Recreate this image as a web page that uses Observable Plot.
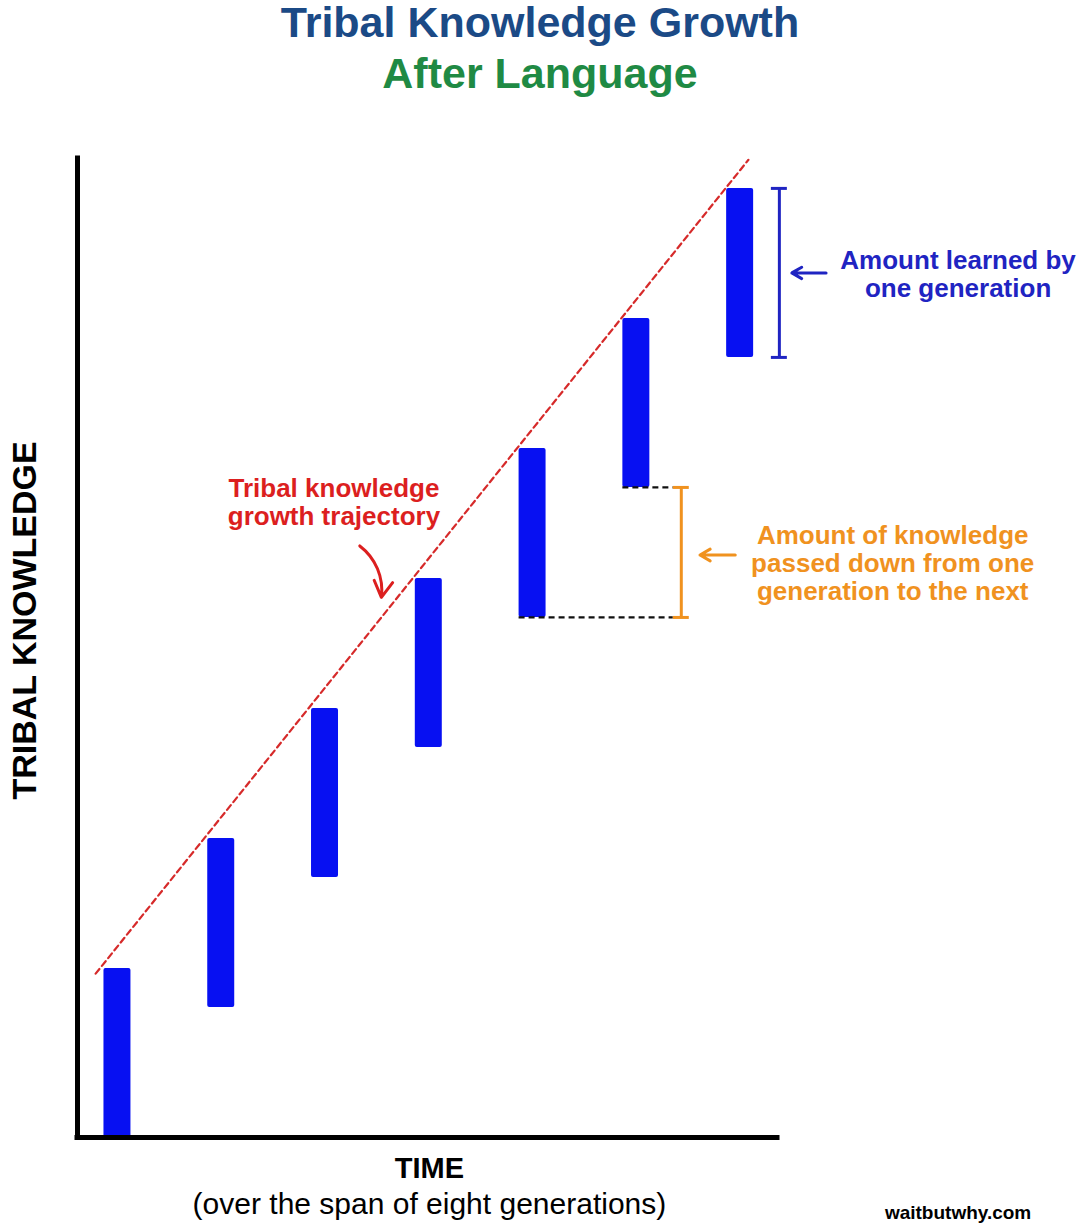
<!DOCTYPE html>
<html>
<head>
<meta charset="utf-8">
<script src="https://cdn.jsdelivr.net/npm/d3@7"></script>
<script src="https://cdn.jsdelivr.net/npm/@observablehq/plot@0.6"></script>
<style>
  html, body { margin: 0; padding: 0; background: #ffffff; }
  #wrap { position: relative; width: 1080px; height: 1230px; font-family: "Liberation Sans", Arial, Helvetica, sans-serif; }
  #header { position: relative; width: 1080px; height: 110px; }
  .t { position: absolute; left: 0; width: 1080px; text-align: center; font-weight: bold; font-size: 43px; line-height: 50px; }
  #t1 { top: -3px; color: #1b4a86; }
  #t2 { top: 48px; color: #1f8a44; }
  #chart svg { display: block; }
</style>
</head>
<body>
<div id="wrap">
  <div id="header">
    <div class="t" id="t1">Tribal Knowledge Growth</div>
    <div class="t" id="t2">After Language</div>
  </div>
  <div id="chart"></div>
</div>
<script>
// ---- data ----
const generations = [1, 2, 3, 4, 5, 6, 7];
const knowledgeInherited = [0, 1, 2, 3, 4, 5, 6];        // bar bottoms
const knowledgeAfterLife = [1.3, 2.3, 3.3, 4.3, 5.3, 6.3, 7.3]; // bar tops
const trajectoryX = [0.79, 7.08];
const trajectoryY = [1.26, 7.52];
const yAxisLabel = "TRIBAL KNOWLEDGE";
const xAxisLabel = "TIME";
const xAxisSubLabel = "(over the span of eight generations)";
const learnedLabel = "Amount learned by\none generation";
const passedLabel = "Amount of knowledge\npassed down from one\ngeneration to the next";
const trajectoryLabel = "Tribal knowledge\ngrowth trajectory";
const credit = "waitbutwhy.com";

// ---- derived tables ----
const bars = generations.map((g, i) => ({gen: g, start: knowledgeInherited[i], end: knowledgeAfterLife[i]}));
const trajectory = trajectoryX.map((x, i) => ({x, y: trajectoryY[i]}));

const FONT = "Liberation Sans, Arial, Helvetica, sans-serif";
const BAR = "#0710f2";
const BLUE = "#1f24c2";
const ORANGE = "#f0921f";
const RED = "#dc1f1f";
const halfW = 0.13;

const last = bars[bars.length - 1];
const b5 = bars[4], b6 = bars[5];
const blueX = last.gen + 0.378;
const orangeX = b6.gen + 0.433;
const capW = 0.077;

const xDomain = [0.615, 7.36];
const yDomain = [0, 7.53];

const plot = Plot.plot({
  width: 1080,
  height: 1120,
  marginLeft: 77,
  marginRight: 303,
  marginTop: 48,
  marginBottom: 93,
  style: {fontFamily: FONT, background: "#ffffff", overflow: "visible"},
  x: {axis: null, domain: xDomain},
  y: {axis: null, domain: yDomain},
  marks: [
    // trajectory
    Plot.line(trajectory, {x: "x", y: "y", stroke: "#d62a2a", strokeWidth: 2.2, strokeDasharray: "6,4"}),
    // bars
    Plot.rect(bars, {x1: d => d.gen - halfW, x2: d => d.gen + halfW, y1: "start", y2: "end", fill: BAR, rx: 2}),
    // black dashed guides
    Plot.ruleY([b6], {y: "start", x1: d => d.gen - halfW, x2: orangeX - capW, stroke: "#111", strokeWidth: 2.2, strokeDasharray: "6,4"}),
    Plot.ruleY([b5], {y: "start", x1: d => d.gen - halfW, x2: orangeX - capW, stroke: "#111", strokeWidth: 2.2, strokeDasharray: "6,4"}),
    // axes
    Plot.ruleX([xDomain[0]], {stroke: "#000", strokeWidth: 5, strokeLinecap: "square"}),
    Plot.ruleY([0], {stroke: "#000", strokeWidth: 5, strokeLinecap: "square"}),
    // blue bracket
    Plot.ruleX([last], {x: blueX, y1: "start", y2: "end", stroke: BLUE, strokeWidth: 3}),
    Plot.ruleY([last.start, last.end], {x1: blueX - capW, x2: blueX + capW, stroke: BLUE, strokeWidth: 3}),
    Plot.arrow([last], {x1: blueX + 0.45, x2: blueX + 0.12, y1: d => (d.start + d.end) / 2, y2: d => (d.start + d.end) / 2, stroke: BLUE, strokeWidth: 3, headLength: 10}),
    Plot.text([learnedLabel], {x: 9.10, y: 6.638, fill: BLUE, fontSize: 26, fontWeight: "bold", lineHeight: 1.077, textAnchor: "middle"}),
    // orange bracket
    Plot.ruleX([0], {x: orangeX, y1: b5.start, y2: b6.start, stroke: ORANGE, strokeWidth: 3}),
    Plot.ruleY([b5.start, b6.start], {x1: orangeX - capW, x2: orangeX + capW, stroke: ORANGE, strokeWidth: 3}),
    Plot.arrow([0], {x1: orangeX + 0.52, x2: orangeX + 0.18, y1: (b5.start + b6.start) / 2 - 0.02, y2: (b5.start + b6.start) / 2 - 0.02, stroke: ORANGE, strokeWidth: 3, headLength: 10}),
    Plot.text([passedLabel], {x: 8.47, y: 4.415, fill: ORANGE, fontSize: 26, fontWeight: "bold", lineHeight: 1.077, textAnchor: "middle"}),
    // red trajectory label
    Plot.text([trajectoryLabel], {x: 3.086, y: 4.885, fill: RED, fontSize: 26, fontWeight: "bold", lineHeight: 1.077, textAnchor: "middle"}),
    Plot.arrow([0], {x1: 3.335, y1: 4.55, x2: 3.543, y2: 4.154, bend: 30, stroke: RED, strokeWidth: 3, headLength: 12}),
    // axis labels
    Plot.text([yAxisLabel], {frameAnchor: "left", y: 3.977, dx: -52, rotate: -90, fontSize: 34, fontWeight: "bold", fill: "#000", textAnchor: "middle"}),
    Plot.text([xAxisLabel], {frameAnchor: "bottom", x: 4.006, dy: 40, fontSize: 29, fontWeight: "bold", fill: "#000", textAnchor: "middle"}),
    Plot.text([xAxisSubLabel], {frameAnchor: "bottom", x: 4.006, dy: 76, fontSize: 30, fill: "#000", textAnchor: "middle"}),
    Plot.text([credit], {frameAnchor: "bottom", x: 9.10, dy: 81, fontSize: 19, fontWeight: "bold", fill: "#000", textAnchor: "middle"})
  ]
});
document.getElementById("chart").appendChild(plot);
</script>
</body>
</html>
